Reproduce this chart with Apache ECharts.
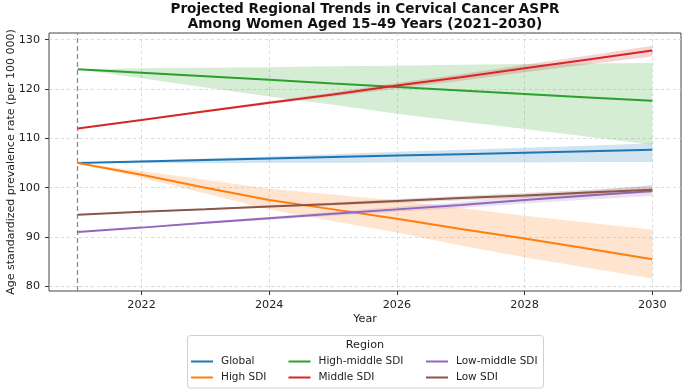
<!DOCTYPE html>
<html>
<head>
<meta charset="utf-8">
<script src="https://cdn.jsdelivr.net/npm/echarts@6/dist/echarts.min.js"></script>
<style>html,body{margin:0;padding:0;background:#fff}#c{width:685px;height:392px}</style>
</head>
<body>
<div id="c"></div>
<script>
const years = [2021, 2022, 2023, 2024, 2025, 2026, 2027, 2028, 2029, 2030];
const xTicks = [2022, 2024, 2026, 2028, 2030];
const yTicks = [80, 90, 100, 110, 120, 130];

const regionNames = ['Global', 'High SDI', 'High-middle SDI', 'Middle SDI', 'Low-middle SDI', 'Low SDI'];

const globalMean  = [105.0, 105.3, 105.6, 105.9, 106.2, 106.5, 106.8, 107.1, 107.4, 107.7];
const globalUpper = [105.0, 105.5, 105.9, 106.3, 106.8, 107.3, 107.7, 108.1, 108.5, 109.0];
const globalLower = [105.0, 105.0, 105.0, 105.0, 105.0, 105.1, 105.1, 105.1, 105.2, 105.2];

const highMean  = [105.0, 102.6, 100.0, 97.5, 95.6, 93.7, 91.6, 89.7, 87.6, 85.5];
const highUpper = [105.0, 103.4, 101.6, 99.8, 98.6, 97.4, 95.9, 94.3, 92.9, 91.5];
const highLower = [105.0, 102.0, 98.8, 95.6, 93.2, 90.9, 88.3, 85.9, 83.7, 81.6];

const highMidMean  = [124.0, 123.3, 122.6, 121.9, 121.1, 120.4, 119.7, 119.0, 118.3, 117.6];
const highMidUpper = [124.0, 124.2, 124.3, 124.4, 124.6, 124.7, 124.9, 125.1, 125.2, 125.3];
const highMidLower = [124.0, 122.2, 120.3, 118.5, 116.8, 115.0, 113.4, 111.9, 110.3, 108.7];

const middleMean  = [112.0, 113.7, 115.5, 117.2, 118.9, 120.7, 122.4, 124.2, 126.0, 127.8];
const middleUpper = [112.0, 113.8, 115.7, 117.5, 119.3, 121.2, 123.0, 124.9, 126.8, 128.8];
const middleLower = [112.0, 113.6, 115.3, 116.9, 118.5, 120.1, 121.7, 123.4, 125.0, 126.6];

const lowMidMean  = [91.0, 91.9, 92.9, 93.8, 94.7, 95.6, 96.5, 97.5, 98.4, 99.3];
const lowMidUpper = [91.0, 92.0, 93.1, 94.1, 95.1, 96.1, 97.1, 98.2, 99.3, 100.6];
const lowMidLower = [91.0, 91.8, 92.7, 93.5, 94.3, 95.1, 95.9, 96.8, 97.6, 98.3];

const lowMean  = [94.5, 95.1, 95.6, 96.2, 96.7, 97.3, 97.9, 98.4, 99.0, 99.6];
const lowUpper = [94.5, 95.2, 95.8, 96.4, 97.0, 97.7, 98.3, 98.9, 99.6, 100.3];
const lowLower = [94.5, 95.0, 95.5, 96.0, 96.5, 96.9, 97.4, 97.9, 98.4, 98.9];

const colors = ['#1f77b4', '#ff7f0e', '#2ca02c', '#d62728', '#9467bd', '#8c564b'];
const bandFills = ['rgba(31,119,180,0.2)', 'rgba(255,127,14,0.2)', 'rgba(44,160,44,0.2)',
                   'rgba(214,39,40,0.2)', 'rgba(148,103,189,0.2)', 'rgba(140,86,75,0.2)'];

const regions = [
  [globalMean, globalLower, globalUpper],
  [highMean, highLower, highUpper],
  [highMidMean, highMidLower, highMidUpper],
  [middleMean, middleLower, middleUpper],
  [lowMidMean, lowMidLower, lowMidUpper],
  [lowMean, lowLower, lowUpper]
];

const FONT = 'DejaVu Sans';
const series = [];
regions.forEach(function (r, k) {
  const mean = r[0], lower = r[1], upper = r[2];
  series.push({
    name: regionNames[k],
    type: 'line',
    data: years.map(function (y, i) { return [y, mean[i]]; }),
    symbol: 'none',
    color: colors[k],
    lineStyle: { width: 2, color: colors[k] },
    z: 4 + 2 * k,
    silent: true
  });
  series.push({
    name: regionNames[k] + ' interval',
    type: 'custom',
    clip: false,
    z: 5 + 2 * k,
    silent: true,
    data: years.map(function (y, i) { return [y, lower[i], upper[i]]; }),
    encode: { x: 0, y: [1, 2] },
    renderItem: function (params, api) {
      if (params.dataIndex !== 0) return null;
      const pts = [];
      for (let i = 0; i < years.length; i++) pts.push(api.coord([years[i], upper[i]]));
      for (let i = years.length - 1; i >= 0; i--) pts.push(api.coord([years[i], lower[i]]));
      return { type: 'polygon', shape: { points: pts }, style: { fill: bandFills[k], stroke: null } };
    }
  });
});

// reference line at base year
series.push({
  name: 'base',
  type: 'line',
  data: [],
  z: 2,
  silent: true,
  markLine: {
    silent: true,
    symbol: 'none',
    label: { show: false },
    lineStyle: { color: '#8a8a8a', type: [5, 3], width: 1.3 },
    data: [{ xAxis: 2021 }]
  }
});

function legendCol(names, left) {
  return {
    orient: 'vertical',
    left: left,
    top: 355.5,
    data: names,
    icon: 'rect',
    itemWidth: 22,
    itemHeight: 2,
    itemGap: 4,
    selectedMode: false,
    padding: 0,
    textStyle: { fontFamily: FONT, fontSize: 10.5, color: '#222', lineHeight: 12, padding: [0, 0, 0, 3] }
  };
}

const chart = echarts.init(document.getElementById('c'), null, { renderer: 'canvas' });
chart.setOption({
  animation: false,
  backgroundColor: '#fff',
  grid: { left: 49, right: 4, top: 33, bottom: 101, containLabel: false, outerBoundsMode: 'none',
          show: true, borderColor: '#444', borderWidth: 1, backgroundColor: 'transparent' },
  xAxis: {
    type: 'value', min: 2020.55, max: 2030.45,
    name: 'Year', nameLocation: 'middle', nameGap: 23, nameMoveOverlap: false,
    nameTextStyle: { fontFamily: FONT, fontSize: 11.2, color: '#222' },
    axisLine: { show: false },
    axisTick: { show: true, length: 4, lineStyle: { color: '#333' }, customValues: xTicks },
    axisLabel: { fontFamily: FONT, fontSize: 11.2, color: '#222', margin: 9, customValues: xTicks,
                 formatter: function (v) { return String(Math.round(v)); } },
    splitLine: { show: true, lineStyle: { color: '#d2d2d2', type: [3, 3], width: 0.8 } }
  },
  yAxis: {
    type: 'value', min: 79.05, max: 131.36,
    name: 'Age standardized prevalence rate (per 100 000)', nameLocation: 'middle', nameGap: 32, nameRotate: 90,
    nameMoveOverlap: false,
    nameTextStyle: { fontFamily: FONT, fontSize: 11, color: '#222' },
    axisLine: { show: false },
    axisTick: { show: true, length: 4, lineStyle: { color: '#333' }, customValues: yTicks },
    axisLabel: { fontFamily: FONT, fontSize: 11.2, color: '#222', margin: 9, customValues: yTicks,
                 formatter: function (v) { return String(Math.round(v)); } },
    splitLine: { show: true, lineStyle: { color: '#d2d2d2', type: [3, 3], width: 0.8 } }
  },
  legend: [
    legendCol(['Global', 'High SDI'], 191),
    legendCol(['High-middle SDI', 'Middle SDI'], 288.5),
    legendCol(['Low-middle SDI', 'Low SDI'], 426)
  ],
  graphic: [
    { type: 'rect', z: -1, shape: { x: 187.5, y: 335.5, width: 356, height: 52.5, r: 3 },
      style: { fill: '#fff', stroke: '#d0d0d0', lineWidth: 1 } },
    { type: 'text', x: 365, y: 345.5, style: { text: 'Region', fontFamily: FONT, fontSize: 11.2, fill: '#222', align: 'center', verticalAlign: 'middle' } },
    { type: 'text', x: 365, y: 9.5, style: { text: 'Projected Regional Trends in Cervical Cancer ASPR', fontFamily: FONT, fontWeight: 'bold', fontSize: 13.6, fill: '#111', align: 'center', verticalAlign: 'middle' } },
    { type: 'text', x: 365, y: 24, style: { text: 'Among Women Aged 15–49 Years (2021–2030)', fontFamily: FONT, fontWeight: 'bold', fontSize: 13.6, fill: '#111', align: 'center', verticalAlign: 'middle' } }
  ],
  series: series
});
</script>
</body>
</html>
